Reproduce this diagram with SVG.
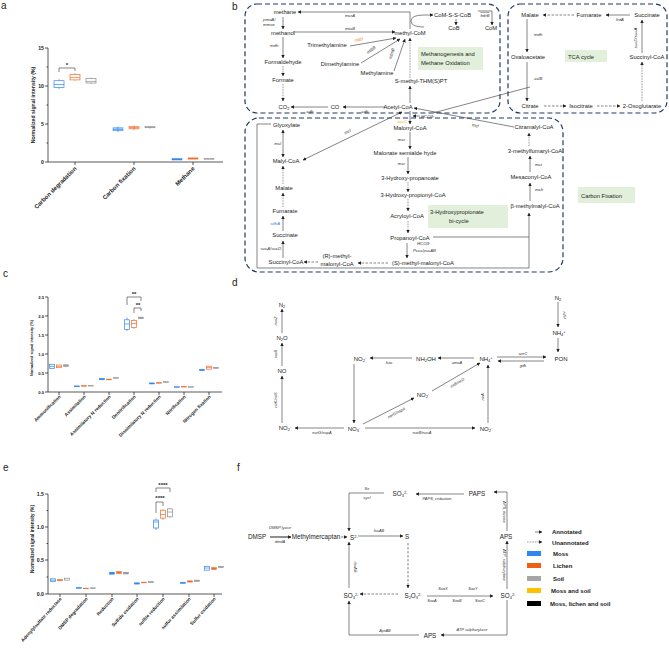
<svg xmlns="http://www.w3.org/2000/svg" width="669" height="648" viewBox="0 0 669 648">
<defs>
<style>
text{font-family:"Liberation Sans",Arial,sans-serif;fill:#222}
.pl{font-size:10px}
.n{font-size:5.8px;text-anchor:middle}
.ns{font-size:5.8px}
.e{font-size:4.3px;font-style:italic;text-anchor:middle;fill:#333}
.es{font-size:4.3px;font-style:italic;fill:#333}
.c{fill:none;stroke:#333;stroke-width:0.6}
.d{stroke-dasharray:2.5 1.5}
.o{stroke-dasharray:0.8 0.8}
.bx{fill:none;stroke:#1F3864;stroke-width:1.2;stroke-dasharray:5 3}
.g{fill:#E2EFDA}
.gt{font-size:5.8px}
.ax{fill:none;stroke:#111;stroke-width:0.7}
.tk{font-size:5.2px;font-weight:bold;text-anchor:end}
.tks{font-size:4.2px;font-weight:bold;text-anchor:end}
.xl{font-size:6px;font-weight:bold;text-anchor:end}
.xs{font-size:4.7px;font-weight:bold;text-anchor:end}
.yt{font-size:5.2px;font-weight:bold;text-anchor:middle}
.yts{font-size:3.8px;font-weight:bold;text-anchor:middle}
.B{fill:none;stroke:#2E86F0;stroke-width:0.7}
.O{fill:none;stroke:#F26B2A;stroke-width:0.7}
.G{fill:none;stroke:#8C8C8C;stroke-width:0.7}
.Bf{fill:#2E86F0;stroke:#2E86F0;stroke-width:0.5}
.Of{fill:#F26B2A;stroke:#F26B2A;stroke-width:0.5}
.Gf{fill:#9E9E9E;stroke:#8C8C8C;stroke-width:0.5}
.br{fill:none;stroke:#333;stroke-width:0.6}
.st{font-size:6px;font-weight:bold;text-anchor:middle}
.fn{font-size:6.3px;text-anchor:middle}
.dn{font-size:6px;text-anchor:middle}
.de{font-size:4px;font-style:italic;text-anchor:middle;fill:#333}
.lg{font-size:6px;font-weight:bold}
</style>
<marker id="ah" viewBox="0 0 10 10" refX="9" refY="5" markerWidth="3.6" markerHeight="3.6" markerUnits="userSpaceOnUse" orient="auto-start-reverse"><path d="M0,0 L10,5 L0,10 z" fill="#222"/></marker>
</defs>
<rect width="669" height="648" fill="#fff"/>

<!-- ================= Panel a ================= -->
<g id="panel-a">
<text class="pl" x="1" y="9">a</text>
<path class="ax" d="M48,48V162H223M45,48H48M45,86H48M45,124H48M45,162H48M46.5,67H48M46.5,105H48M46.5,143H48M75,162V165M134,162V165M193,162V165"/>
<text class="tk" x="44" y="50">15</text>
<text class="tk" x="44" y="88">10</text>
<text class="tk" x="44" y="126">5</text>
<text class="tk" x="44" y="164">0</text>
<text class="yt" transform="translate(35,105) rotate(-90)">Normalized signal intensity (%)</text>
<text class="xl" transform="translate(77,169) rotate(-45)">Carbon degradation</text>
<text class="xl" transform="translate(136,169) rotate(-45)">Carbon fixation</text>
<text class="xl" transform="translate(195,169) rotate(-45)">Methane</text>
<g id="a-boxes">
<path class="B" d="M59,79.2V80.7M59,87.5V89M54,84.5H64"/><rect class="B" x="54" y="80.7" width="10" height="6.8"/>
<path class="O" d="M75,73.1V74.6M75,79.9V80.7M70,77.6H80"/><rect class="O" x="70" y="74.6" width="10" height="5.3"/>
<path class="G" d="M91,77.5V78.4M91,83V84M86,81.4H96"/><rect class="G" x="86" y="78.4" width="10" height="4.6"/>
<rect class="Bf" x="113" y="127.8" width="10" height="3" fill-opacity="0.35"/><path class="B" d="M113,129.3H123M118,126.5V132"/>
<rect class="Of" x="129" y="126.3" width="10" height="2.6" fill-opacity="0.35"/><path class="O" d="M129,127.8H139M134,125.5V130"/>
<rect class="Gf" x="145" y="126.7" width="10" height="1.1" fill-opacity="0.35"/><path class="G" d="M145,127.2H155M150,126V128.5"/>
<rect class="Bf" x="172" y="158.6" width="10" height="1.4"/>
<rect class="Of" x="188" y="157.9" width="10" height="1.2"/>
<rect class="Gf" x="204" y="158.6" width="10" height="0.6"/>
</g>
<g id="a-sig">
<path class="br" d="M59,72V68H75V71"/>
<text class="st" x="67" y="67">*</text>
</g>
</g>

<!-- ================= Panel c ================= -->
<g id="panel-c">
<text class="pl" x="3" y="277">c</text>
<path class="ax" d="M48,297V392H222M45,297H48M45,316H48M45,335H48M45,354H48M45,373H48M45,392H48M59,392V395M84,392V395M109,392V395M134,392V395M159,392V395M184,392V395M209,392V395"/>
<text class="tks" x="44" y="298.5">2.5</text>
<text class="tks" x="44" y="317.5">2.0</text>
<text class="tks" x="44" y="336.5">1.5</text>
<text class="tks" x="44" y="355.5">1.0</text>
<text class="tks" x="44" y="374.5">0.5</text>
<text class="tks" x="44" y="393.5">0.0</text>
<text class="yts" transform="translate(33,348) rotate(-90)">Normalized signal intensity (%)</text>
<text class="xs" transform="translate(61,397) rotate(-45)">Ammonification</text>
<text class="xs" transform="translate(86,397) rotate(-45)">Assimilation</text>
<text class="xs" transform="translate(111,397) rotate(-45)">Assimilatory N reduction</text>
<text class="xs" transform="translate(136,397) rotate(-45)">Denitrification</text>
<text class="xs" transform="translate(161,397) rotate(-45)">Dissimilatory N reduction</text>
<text class="xs" transform="translate(186,397) rotate(-45)">Nitrification</text>
<text class="xs" transform="translate(211,397) rotate(-45)">Nitrogen fixation</text>
<g id="c-boxes">
<rect class="B" x="49.5" y="364.6" width="5" height="3.8"/><path class="B" d="M49.5,366.4H54.5"/>
<rect class="O" x="56.5" y="365" width="5" height="2.7"/><path class="O" d="M56.5,366.3H61.5"/>
<rect class="Gf" x="63.5" y="364.8" width="5" height="1.6"/>
<rect class="Bf" x="74.5" y="385.9" width="5" height="0.9"/>
<rect class="Of" x="81.5" y="385.5" width="5" height="0.8"/>
<rect class="Gf" x="88.5" y="385.6" width="5" height="0.5"/>
<rect class="Bf" x="99.5" y="378.3" width="5" height="1.5"/>
<rect class="Of" x="106.5" y="379.1" width="5" height="0.8"/>
<rect class="Gf" x="113.5" y="377.6" width="5" height="0.7"/>
<path class="B" d="M127,317.5V319.8M127,329.3V331"/><rect class="B" x="124.5" y="319.8" width="5" height="9.5"/><path class="B" d="M124.5,324H129.5"/>
<path class="O" d="M134,319V320.6M134,327.4V329"/><rect class="O" x="131.5" y="320.6" width="5" height="6.8"/><path class="O" d="M131.5,323.5H136.5"/>
<rect class="Gf" x="138.5" y="317.1" width="5" height="1.6"/>
<rect class="Bf" x="149.5" y="382.9" width="5" height="1.1"/>
<rect class="Of" x="156.5" y="382.5" width="5" height="0.8"/>
<rect class="Gf" x="163.5" y="381.7" width="5" height="0.8"/>
<rect class="Bf" x="174.5" y="386.7" width="5" height="0.7"/>
<rect class="Of" x="181.5" y="386.4" width="5" height="0.7"/>
<rect class="Gf" x="188.5" y="386.7" width="5" height="0.6"/>
<rect class="Bf" x="199.5" y="369.2" width="5" height="1.5"/>
<rect class="O" x="206.5" y="366.2" width="5" height="3"/><path class="O" d="M206.5,367.6H211.5"/>
<rect class="Gf" x="213.5" y="367.3" width="5" height="1.1"/>
</g>
<g id="c-sig">
<path class="br" d="M127,305V297H141V301"/>
<text class="st" x="134" y="296">**</text>
<path class="br" d="M134,313V308H141V311"/>
<text class="st" x="138" y="307">**</text>
</g>
</g>

<!-- ================= Panel e ================= -->
<g id="panel-e">
<text class="pl" x="3" y="471">e</text>
<path class="ax" d="M48,494V594H222M45,494H48M45,527H48M45,560H48M45,594H48M46.5,510.5H48M46.5,543.5H48M46.5,577H48M60,594V597M86,594V597M112,594V597M137,594V597M163,594V597M189,594V597M214,594V597"/>
<text class="tk" x="44" y="496">1.5</text>
<text class="tk" x="44" y="529">1.0</text>
<text class="tk" x="44" y="562">0.5</text>
<text class="tk" x="44" y="596">0.0</text>
<text class="yt" transform="translate(34,539) rotate(-90)" style="font-size:4.6px">Normalized signal intensity (%)</text>
<text class="xs" transform="translate(62,599) rotate(-48)">Adenylylsulfate reductase</text>
<text class="xs" transform="translate(88,599) rotate(-48)">DMSP degradation</text>
<text class="xs" transform="translate(114,599) rotate(-48)">Reduction</text>
<text class="xs" transform="translate(139,599) rotate(-48)">Sulfide oxidation</text>
<text class="xs" transform="translate(165,599) rotate(-48)">sulfite reduction</text>
<text class="xs" transform="translate(191,599) rotate(-48)">sulfur assimilation</text>
<text class="xs" transform="translate(216,599) rotate(-48)">Sulfur oxidation</text>
<g id="e-boxes">
<rect class="B" x="50.5" y="578.8" width="5" height="2.7"/><path class="B" d="M50.5,580.2H55.5"/>
<rect class="Of" x="57.5" y="579.5" width="5" height="1.3"/>
<rect class="G" x="64.5" y="578.2" width="5" height="1.9"/>
<rect class="Bf" x="76.5" y="587.4" width="5" height="1"/>
<rect class="Of" x="83.5" y="588.1" width="5" height="0.7"/>
<rect class="Gf" x="90.5" y="587.8" width="5" height="0.7"/>
<rect class="Bf" x="109.5" y="572.2" width="5" height="2"/>
<rect class="Of" x="116.5" y="571.6" width="5" height="1.9"/>
<rect class="Gf" x="123.5" y="572.2" width="5" height="1.8"/>
<rect class="Bf" x="134.5" y="582.8" width="5" height="1.3"/>
<rect class="Of" x="141.5" y="582.1" width="5" height="0.8"/>
<rect class="Gf" x="148.5" y="581.5" width="5" height="1.1"/>
<path class="B" d="M156,518.5V520.1M156,528V530"/><rect class="B" x="153.5" y="520.1" width="5" height="7.9"/><path class="B" d="M153.5,522H158.5"/>
<path class="O" d="M163,509V510.2M163,518.1V520"/><rect class="O" x="160.5" y="510.2" width="5" height="7.9"/><path class="O" d="M160.5,514.5H165.5"/>
<path class="G" d="M170,508V508.9M170,516.8V518"/><rect class="G" x="167.5" y="508.9" width="5" height="7.9"/><path class="G" d="M167.5,512H172.5"/>
<rect class="Bf" x="180.5" y="582.2" width="5" height="1.3"/>
<rect class="Of" x="187.5" y="580.8" width="5" height="1.3"/>
<rect class="Gf" x="194.5" y="580.1" width="5" height="1.4"/>
<rect class="B" x="204.5" y="566.3" width="5" height="3.9"/><path class="B" d="M204.5,568H209.5"/>
<rect class="Of" x="211.5" y="567.6" width="5" height="2"/>
<rect class="Gf" x="218.5" y="566.3" width="5" height="1.3"/>
</g>
<g id="e-sig">
<path class="br" d="M156,492V488H170V492"/>
<text class="st" x="163" y="487">****</text>
<path class="br" d="M156,513V502H163V506"/>
<text class="st" x="160" y="500">****</text>
</g>
</g>

<!-- ================= Panel b ================= -->
<text class="pl" x="232" y="10">b</text>
<g id="b-regions">
<rect class="bx" x="245" y="4" width="255" height="109" rx="12"/>
<rect class="bx" x="508" y="4" width="159" height="109" rx="12"/>
<rect class="bx" x="245" y="118" width="318" height="154" rx="14"/>
</g>
<g id="b-labels">
<g id="lbl-methano"><rect class="g" x="418" y="47" width="65" height="23"/><text class="gt" x="421" y="56">Methanogenesis and</text><text class="gt" x="421" y="65">Methane Oxidation</text></g>
<g id="lbl-tca"><rect class="g" x="565" y="50" width="42" height="12"/><text class="gt" x="568" y="58.5">TCA cycle</text></g>
<g id="lbl-3hp"><rect class="g" x="428" y="205" width="80" height="23"/><text class="gt" x="430" y="214">3-Hydroxypropionate</text><text class="gt" x="449" y="223">bi-cycle</text></g>
<g id="lbl-cfix"><rect class="g" x="578" y="187" width="57" height="16"/><text class="gt" x="581" y="197.5">Carbon Fixation</text></g>
</g>

<g id="b-connectors">
<path class="c" d="M410,29V12H298" marker-end="url(#ah)"/>
<path class="c" d="M424,27Q411,27 411,21Q411,15 424,15H433" marker-end="url(#ah)"/>
<path class="c" d="M456,19V25" marker-end="url(#ah)"/>
<path class="c" d="M478,11H492V25" marker-end="url(#ah)"/>
<path class="c" d="M283,17V29" marker-end="url(#ah)"/>
<path class="c" d="M293,32H395" marker-end="url(#ah)"/>
<path class="c" d="M283,37V58" marker-end="url(#ah)"/>
<path class="c o" d="M283,66V76" marker-end="url(#ah)"/>
<path class="c o" d="M283,84V101" marker-end="url(#ah)"/>
<path class="c" d="M350,46L396,38" marker-end="url(#ah)"/>
<path class="c" d="M361,63L400,39" marker-end="url(#ah)"/>
<path class="c" d="M394,71L405,39" marker-end="url(#ah)"/>
<path class="c o" d="M410,78V38" marker-end="url(#ah)"/>
<path class="c" d="M410,103V86" marker-end="url(#ah)"/>
<path class="c" d="M385,107H343" marker-end="url(#ah)"/>
<path class="c" d="M328,107H291" marker-end="url(#ah)"/>
<path class="c d" d="M574,15H543" marker-end="url(#ah)"/>
<path class="c" d="M630,15H606" marker-end="url(#ah)"/>
<path class="c" d="M527,19V52" marker-end="url(#ah)"/>
<path class="c" d="M527,62V101" marker-end="url(#ah)"/>
<path class="c" d="M642,53V20" marker-end="url(#ah)"/>
<path class="c o" d="M642,101V62" marker-end="url(#ah)"/>
<path class="c d" d="M544,106H566" marker-end="url(#ah)"/>
<path class="c d" d="M597,106H620" marker-end="url(#ah)"/>
<path class="c" d="M530,87L433,113"/>
<path class="c" d="M410,111V124" marker-end="url(#ah)"/>
<path class="c" d="M420,116H413" marker-end="url(#ah)"/>
<path class="c" d="M402,112L303,160" marker-start="url(#ah)" marker-end="url(#ah)"/>
<path class="c" d="M514,127L414,108" marker-end="url(#ah)"/>
<path class="c" d="M410,132V149" marker-end="url(#ah)"/>
<path class="c" d="M408,157V174" marker-end="url(#ah)"/>
<path class="c o" d="M408,182V192" marker-end="url(#ah)"/>
<path class="c o" d="M408,199V211" marker-end="url(#ah)"/>
<path class="c o" d="M408,221V233" marker-end="url(#ah)"/>
<path class="c" d="M407,243V258" marker-end="url(#ah)"/>
<path class="c d" d="M388,263H358" marker-end="url(#ah)"/>
<path class="c d" d="M318,262H304" marker-end="url(#ah)"/>
<path class="c" d="M283,258V241" marker-end="url(#ah)"/>
<path class="c" d="M283,231V216" marker-end="url(#ah)"/>
<path class="c o" d="M283,207V193" marker-end="url(#ah)"/>
<path class="c o" d="M283,184V166" marker-end="url(#ah)"/>
<path class="c" d="M283,130V157" marker-start="url(#ah)" marker-end="url(#ah)"/>
<path class="c" d="M271,124H257V268H529V213" marker-end="url(#ah)"/>
<path class="c" d="M433,237H529"/>
<path class="c" d="M530,201V183" marker-end="url(#ah)"/>
<path class="c" d="M530,172V156" marker-end="url(#ah)"/>
<path class="c o" d="M529,146V133" marker-end="url(#ah)"/>
</g>

<g id="b-enzymes">
<text class="e" x="350" y="17">mcrA</text>
<text class="es" x="263" y="21">pmoA/</text>
<text class="es" x="263" y="26">mmox</text>
<text class="e" x="350" y="29.5">mtaB</text>
<text class="es" x="270" y="47">mdh</text>
<text class="e" x="359" y="41" transform="rotate(-10 359 41)" style="fill:#F07F1E">mttB</text>
<text class="e" x="372" y="51" transform="rotate(-38 372 51)">mtbB</text>
<text class="e" x="393" y="54" transform="rotate(-72 393 54)">mtmB</text>
<text class="e" x="365" y="112.5">cdh</text>
<text class="e" x="310" y="112.5">cdh</text>
<text class="e" x="485" y="16.5" style="text-decoration:overline">hdrB</text>
<text class="e" x="620" y="21">frdA</text>
<text class="es" x="534" y="36">mdh</text>
<text class="es" x="534" y="80">aclB</text>
<text class="e" transform="translate(637,38) rotate(-90)">sucD/sucA</text>
<text class="es" x="407" y="123" style="text-anchor:end;fill:#F2B21B">accC</text>
<text class="es" x="421" y="118">HCO3<tspan dy="-1.5" font-size="3">-</tspan></text>
<text class="e" x="348" y="133" transform="rotate(-26 348 133)">mcl</text>
<text class="e" x="475" y="127" transform="rotate(11 475 127)">mcl</text>
<text class="es" x="281" y="145" style="text-anchor:end">mcl</text>
<text class="es" x="405" y="141" style="text-anchor:end">mcr</text>
<text class="es" x="405" y="165" style="text-anchor:end">mcr</text>
<text class="es" x="280" y="225" style="text-anchor:end;fill:#2E86F0">sdhA</text>
<text class="es" x="281" y="249.5" style="text-anchor:end">sucA/sucD</text>
<text class="es" x="417" y="245">HCO3<tspan dy="-1.5" font-size="3">-</tspan></text>
<text class="es" x="413" y="252">Pccc/pccAB</text>
<text class="es" x="535" y="166">mct</text>
<text class="es" x="535" y="191">mch</text>
</g>

<g id="b-nodes">
<g id="n-methane"><text class="n" x="285" y="14">methane</text></g>
<g id="n-methanol"><text class="n" x="283" y="35">methanol</text></g>
<g id="n-formaldehyde"><text class="n" x="283" y="64">Formaldehyde</text></g>
<g id="n-formate"><text class="n" x="283" y="82">Formate</text></g>
<g id="n-co2"><text class="n" x="284" y="109">CO<tspan font-size="4" dy="1">2</tspan></text></g>
<g id="n-co"><text class="n" x="335" y="109">CO</text></g>
<g id="n-acetylcoa"><text class="n" x="398" y="109">Acetyl-CoA</text></g>
<g id="n-smethyl"><text class="n" x="421" y="83">S-methyl-THM(S)PT</text></g>
<g id="n-methylcom"><text class="n" x="410" y="35">methyl-CoM</text></g>
<g id="n-trimethylamine"><text class="n" x="327" y="47">Trimethylamine</text></g>
<g id="n-dimethylamine"><text class="n" x="340" y="66">Dimethylamine</text></g>
<g id="n-methylamine"><text class="n" x="377" y="75">Methylamine</text></g>
<g id="n-comsscob"><text class="ns" x="434" y="17">CoM-S-S-CoB</text></g>
<g id="n-cob"><text class="n" x="454" y="30">CoB</text></g>
<g id="n-com"><text class="n" x="491" y="30">CoM</text></g>
<g id="n-malate-tca"><text class="n" x="530" y="17">Malate</text></g>
<g id="n-fumarate-tca"><text class="n" x="589" y="17">Fumarate</text></g>
<g id="n-succinate-tca"><text class="n" x="647" y="17">Succinate</text></g>
<g id="n-oxaloacetate"><text class="n" x="528" y="59">Oxaloacetate</text></g>
<g id="n-succinylcoa-tca"><text class="n" x="647" y="59">Succinyl-CoA</text></g>
<g id="n-citrate"><text class="n" x="530" y="108">Citrate</text></g>
<g id="n-isocitrate"><text class="n" x="581" y="108">Isocitrate</text></g>
<g id="n-oxoglutarate"><text class="n" x="642" y="108">2-Oxoglutarate</text></g>
<g id="n-glyoxylate"><text class="ns" x="273" y="127">Glyoxylate</text></g>
<g id="n-malylcoa"><text class="n" x="286" y="163">Malyl-CoA</text></g>
<g id="n-malate"><text class="n" x="284" y="190">Malate</text></g>
<g id="n-fumarate"><text class="n" x="285" y="213">Fumarate</text></g>
<g id="n-succinate"><text class="n" x="285" y="237">Succinate</text></g>
<g id="n-succinylcoa"><text class="n" x="286" y="264">Succinyl-CoA</text></g>
<g id="n-rmethyl"><text class="n" x="337" y="258">(R)-methyl-</text><text class="n" x="337" y="265.5">malonyl-CoA</text></g>
<g id="n-smethylmal"><text class="n" x="423" y="265">(S)-methyl-malonyl-CoA</text></g>
<g id="n-malonylcoa"><text class="n" x="410" y="130">Malonyl-CoA</text></g>
<g id="n-malonatesa"><text class="n" x="405" y="155">Malonate semialde hyde</text></g>
<g id="n-3hp"><text class="n" x="410" y="180">3-Hydroxy-propanoate</text></g>
<g id="n-3hpcoa"><text class="n" x="413" y="197">3-Hydroxy-propionyl-CoA</text></g>
<g id="n-acryloyl"><text class="n" x="407" y="218">Acryloyl-CoA</text></g>
<g id="n-propanoyl"><text class="n" x="410" y="240">Propanoyl-CoA</text></g>
<g id="n-citramalyl"><text class="n" x="534" y="129">Citramalyl-CoA</text></g>
<g id="n-methylfumaryl"><text class="n" x="535" y="153">3-methylfumaryl-CoA</text></g>
<g id="n-mesaconyl"><text class="n" x="531" y="179">Mesaconyl-CoA</text></g>
<g id="n-bmethylmalyl"><text class="n" x="535" y="208">β-methylmalyl-CoA</text></g>
</g>

<!-- ================= Panel d ================= -->
<text class="pl" x="232" y="286">d</text>
<g id="d-connectors">
<path class="c" d="M282,333V309" marker-end="url(#ah)"/>
<path class="c" d="M282,366V343" marker-end="url(#ah)"/>
<path class="c" d="M282,423V376" marker-end="url(#ah)"/>
<path class="c" d="M344,428H295" marker-end="url(#ah)"/>
<path class="c" d="M474,358H438" marker-end="url(#ah)"/>
<path class="c" d="M412,358H370" marker-end="url(#ah)"/>
<path class="c" d="M354,364V423" marker-end="url(#ah)"/>
<path class="c" d="M497,357H546" marker-end="url(#ah)"/>
<path class="c" d="M544,361H498" marker-end="url(#ah)"/>
<path class="c" d="M558,302V327" marker-end="url(#ah)"/>
<path class="c" d="M558,338V352" marker-end="url(#ah)"/>
<path class="c" d="M363,424L414,398" marker-end="url(#ah)"/>
<path class="c" d="M432,391L480,363" marker-end="url(#ah)"/>
<path class="c" d="M365,428H475" marker-end="url(#ah)"/>
<path class="c" d="M488,423V365" marker-end="url(#ah)"/>
</g>
<g id="d-enzymes">
<text class="de" transform="translate(277,321) rotate(-90)">nosZ</text>
<text class="de" transform="translate(277,354) rotate(-90)">norB</text>
<text class="de" transform="translate(277,400) rotate(-90)">nirK/nirS</text>
<text class="de" x="322" y="434">narG/napA</text>
<text class="de" x="457" y="363.5">amoA</text>
<text class="de" x="389" y="363.5">hao</text>
<text class="de" x="523" y="354.5">ureC</text>
<text class="de" x="523" y="366.5">gdh</text>
<text class="de" transform="translate(563,315) rotate(90)">nifH</text>
<text class="de" transform="translate(397,414) rotate(-27)">narG/napA</text>
<text class="de" transform="translate(458,384) rotate(-30)">nirB/nirD</text>
<text class="de" x="422" y="434">narB/nasA</text>
<text class="de" transform="translate(484,397) rotate(-90)">nirA</text>
</g>
<g id="d-nodes">
<g id="d-n2"><text class="dn" x="282" y="307">N<tspan font-size="4" dy="1">2</tspan></text></g>
<g id="d-n2o"><text class="dn" x="282" y="340">N<tspan font-size="4" dy="1">2</tspan><tspan dy="-1">O</tspan></text></g>
<g id="d-no"><text class="dn" x="282" y="373">NO</text></g>
<g id="d-no2-left"><text class="dn" x="285" y="430">NO<tspan font-size="4" dy="1">2</tspan><tspan font-size="4" dy="-3">-</tspan></text></g>
<g id="d-no3"><text class="dn" x="354" y="431">NO<tspan font-size="4" dy="1">3</tspan><tspan font-size="4" dy="-3">-</tspan></text></g>
<g id="d-no2-top"><text class="dn" x="360" y="361">NO<tspan font-size="4" dy="1">2</tspan><tspan font-size="4" dy="-3">-</tspan></text></g>
<g id="d-nh2oh"><text class="dn" x="426" y="361">NH<tspan font-size="4" dy="1">2</tspan><tspan dy="-1">OH</tspan></text></g>
<g id="d-nh4"><text class="dn" x="486" y="361">NH<tspan font-size="4" dy="1">4</tspan><tspan font-size="4" dy="-3">+</tspan></text></g>
<g id="d-pon"><text class="dn" x="561" y="361">PON</text></g>
<g id="d-n2-right"><text class="dn" x="558" y="300">N<tspan font-size="4" dy="1">2</tspan></text></g>
<g id="d-nh4-right"><text class="dn" x="559" y="335">NH<tspan font-size="4" dy="1">4</tspan><tspan font-size="4" dy="-3">+</tspan></text></g>
<g id="d-no2-mid"><text class="dn" x="423" y="397">NO<tspan font-size="4" dy="1">2</tspan><tspan font-size="4" dy="-3">-</tspan></text></g>
<g id="d-no2-right"><text class="dn" x="486" y="431">NO<tspan font-size="4" dy="1">2</tspan><tspan font-size="4" dy="-3">-</tspan></text></g>
</g>

<!-- ================= Panel f ================= -->
<text class="pl" x="237" y="471">f</text>
<g id="f-connectors">
<path class="c" d="M464,494H416" marker-end="url(#ah)"/>
<path class="c" d="M507,531V492H494" marker-end="url(#ah)"/>
<path class="c" d="M507,589V541" marker-end="url(#ah)"/>
<path class="c" d="M507,600V635H441" marker-end="url(#ah)"/>
<path class="c" d="M419,635H349V601" marker-end="url(#ah)"/>
<path class="c" d="M349,588V542" marker-end="url(#ah)"/>
<path class="c" d="M384,493H349V531" marker-end="url(#ah)"/>
<path class="c" d="M270,537H291" style="stroke-width:1.1" marker-end="url(#ah)"/>
<path class="c d" d="M341,537H347" marker-end="url(#ah)"/>
<path class="c" d="M358,536H403" marker-end="url(#ah)"/>
<path class="c d" d="M408,543V588" marker-end="url(#ah)"/>
<path class="c d" d="M398,594H360" marker-end="url(#ah)"/>
<path class="c" d="M427,596H493" marker-end="url(#ah)"/>
</g>
<g id="f-enzymes">
<text class="de" x="437" y="500">PAPS_reduction</text>
<text class="de" transform="translate(503,512) rotate(90)">APS_kinase</text>
<text class="de" transform="translate(503,565) rotate(90)">ATP_sulphurylase</text>
<text class="de" x="472" y="631">ATP sulphurylase</text>
<text class="de" x="385" y="632">AprAB</text>
<text class="de" transform="translate(354,567) rotate(90)">dsrAB</text>
<text class="de" x="367" y="490">Sir</text>
<text class="de" x="367" y="498.5">cysI</text>
<text class="de" x="280" y="529">DMSP lyase</text>
<text class="de" x="280" y="543">dmdA</text>
<text class="de" x="379" y="532">fccAB</text>
<text class="de" x="443" y="590">SoxX</text>
<text class="de" x="473" y="590">SoxY</text>
<text class="de" x="432" y="602">SoxA</text>
<text class="de" x="457" y="602">SoxB</text>
<text class="de" x="480" y="602">SoxC</text>
</g>
<g id="f-nodes">
<g id="f-so3-top"><text class="fn" x="400" y="496">SO<tspan font-size="4" dy="1">3</tspan><tspan font-size="4" dy="-3.5">2-</tspan></text></g>
<g id="f-paps"><text class="fn" x="477" y="496">PAPS</text></g>
<g id="f-aps-mid"><text class="fn" x="506" y="539">APS</text></g>
<g id="f-so4"><text class="fn" x="508" y="598">SO<tspan font-size="4" dy="1">4</tspan><tspan font-size="4" dy="-3.5">2-</tspan></text></g>
<g id="f-aps-bottom"><text class="fn" x="430" y="638">APS</text></g>
<g id="f-so3-bottom"><text class="fn" x="351" y="598">SO<tspan font-size="4" dy="1">3</tspan><tspan font-size="4" dy="-3.5">2-</tspan></text></g>
<g id="f-s2"><text class="fn" x="354" y="540">S<tspan font-size="4" dy="-2.5">2-</tspan></text></g>
<g id="f-dmsp"><text class="fn" x="257" y="539">DMSP</text></g>
<g id="f-methylmercaptan"><text class="fn" x="316" y="539">Methylmercaptan</text></g>
<g id="f-s"><text class="fn" x="407" y="539">S</text></g>
<g id="f-s2o3"><text class="fn" x="413" y="598">S<tspan font-size="4" dy="1">2</tspan><tspan dy="-1">O</tspan><tspan font-size="4" dy="1">3</tspan><tspan font-size="4" dy="-3.5">2-</tspan></text></g>
</g>

<!-- ================= Legend ================= -->
<g id="legend">
<path class="c" d="M535,532H542" marker-end="url(#ah)"/>
<text class="lg" x="552" y="534">Annotated</text>
<path class="c o" d="M527,542H542" marker-end="url(#ah)"/>
<text class="lg" x="552" y="544.5">Unannotated</text>
<rect x="527" y="551" width="14" height="5" fill="#2E86F0"/>
<text class="lg" x="553" y="556">Moss</text>
<rect x="527" y="563" width="14" height="5" fill="#EE5E14"/>
<text class="lg" x="553" y="568">Lichen</text>
<rect x="527" y="576" width="14" height="5" fill="#A6A6A6"/>
<text class="lg" x="553" y="581">Soil</text>
<rect x="527" y="588" width="14" height="5" fill="#FFC000"/>
<text class="lg" x="551" y="593">Moss  and soil</text>
<rect x="527" y="601" width="14" height="5" fill="#000"/>
<text class="lg" x="550" y="606">Moss, lichen and soil</text>
</g>
</svg>
